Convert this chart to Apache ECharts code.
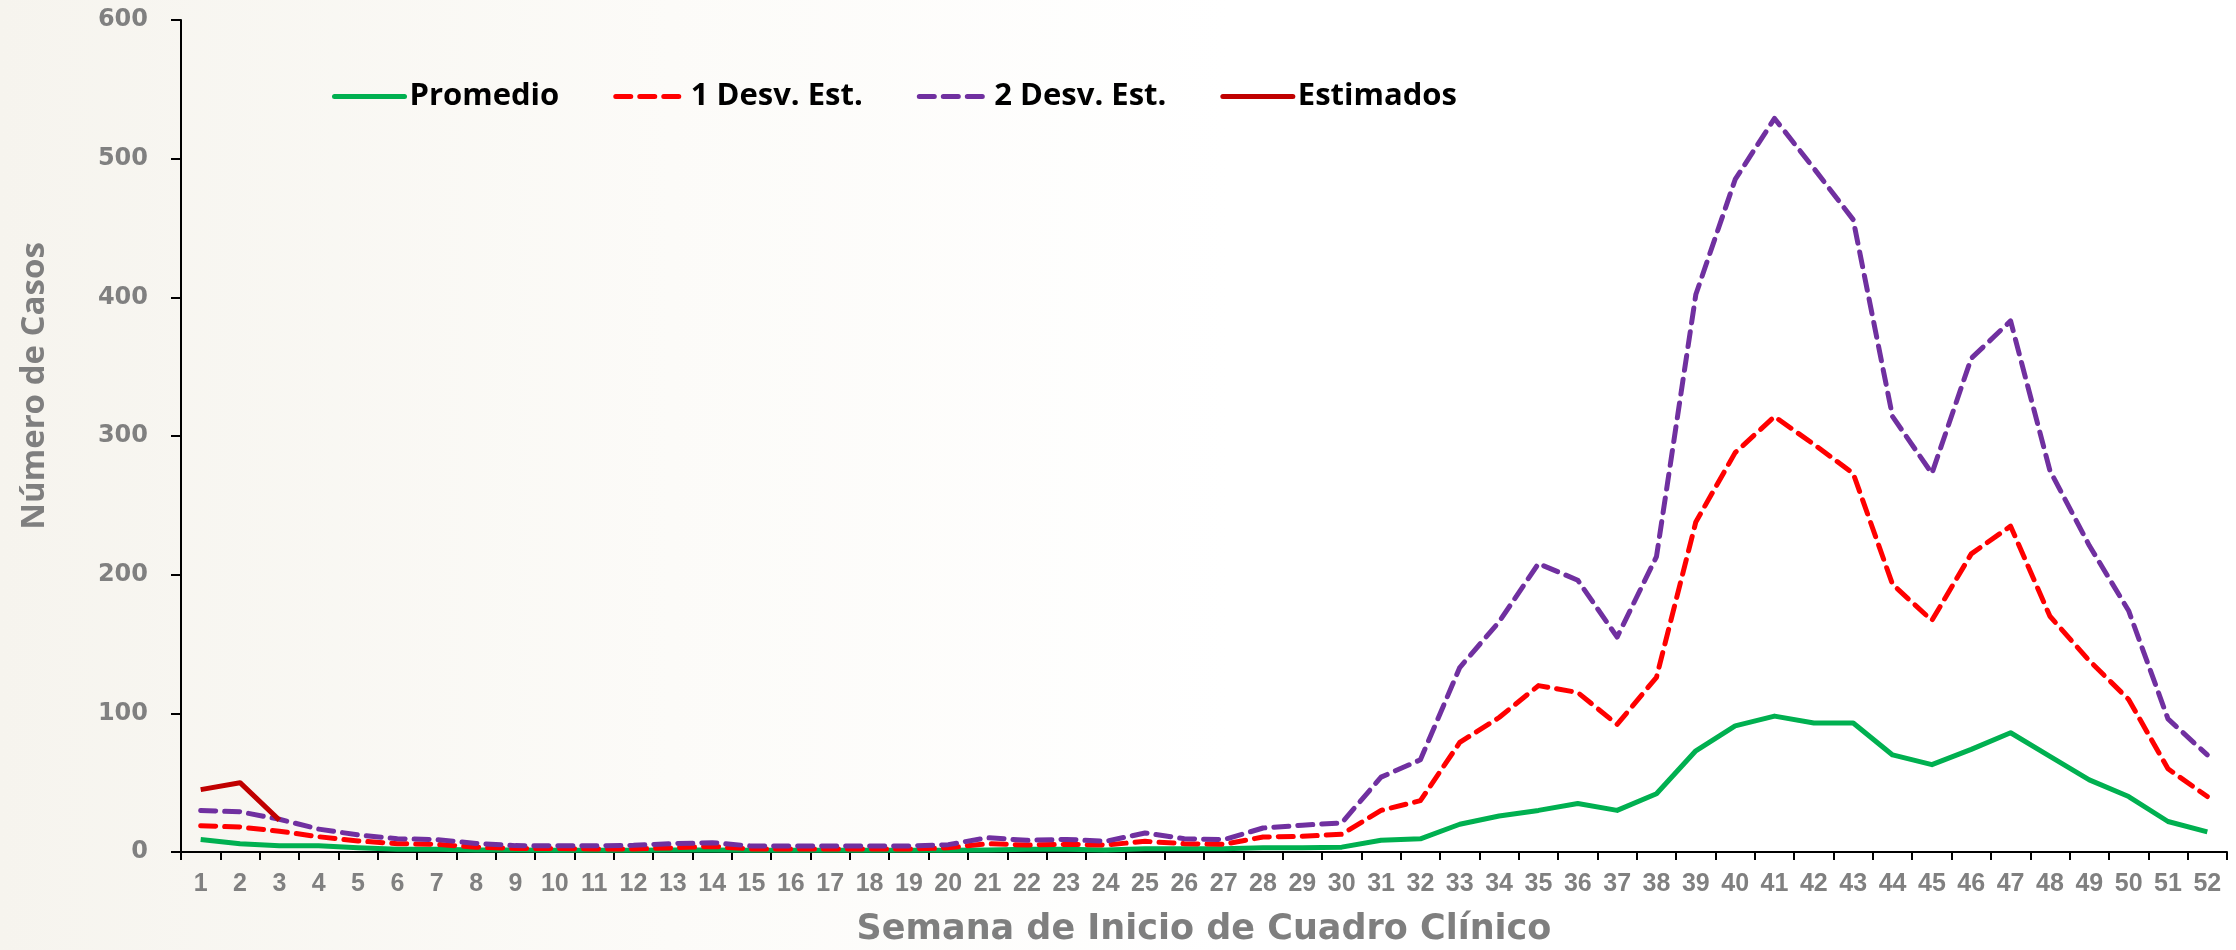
<!DOCTYPE html>
<html>
<head>
<meta charset="utf-8">
<title>Número de Casos por Semana</title>
<style>
    html, body { margin: 0; padding: 0; background: #fff; }
    #main { width: 2236px; height: 950px; }
</style>
</head>
<body>
<div id="main"></div>
<script src="https://cdn.jsdelivr.net/npm/echarts@6/dist/echarts.min.js"></script>
<script>
    // semanas (eje x)
    var semanas = ['1','2','3','4','5','6','7','8','9','10','11','12','13','14','15','16','17','18','19','20',
        '21','22','23','24','25','26','27','28','29','30','31','32','33','34','35','36','37','38','39','40',
        '41','42','43','44','45','46','47','48','49','50','51','52'];

    var promedio = [9, 6, 4.5, 4.5, 3, 2, 2, 1.5, 1.5, 1.2, 1.2, 1.2, 1.5, 1.5, 1.2, 1.2, 1.2, 1.2, 1.2, 1.2,
        1.5, 2, 2, 1.5, 2.4, 2.4, 2.4, 3, 3, 3.5, 8.5, 9.5, 20, 26, 30, 35, 30, 42, 73, 91,
        98, 93, 93, 70, 63, 74, 86, 69, 52, 40, 22, 14.5];

    var desv1 = [19, 18, 15, 11, 8, 6, 5.5, 3.5, 2.6, 2.5, 2.2, 2.2, 3, 4, 2.2, 2.2, 2.2, 2.2, 2.2, 3,
        6, 5, 5.5, 5, 7.7, 6, 5.5, 10.8, 11.3, 12.8, 30, 37, 79, 97, 120, 115, 92, 126, 238, 288,
        314, 294, 273, 193, 167, 215, 235, 170, 138, 110, 60, 40];

    var desv2 = [30, 29, 23.6, 16.5, 12.3, 9.5, 9, 6.2, 4.6, 4.5, 4.5, 4.8, 6, 6.7, 4.3, 4.3, 4.3, 4.3, 4.3, 5.3,
        10.3, 8.4, 9.1, 7.7, 13.7, 9.6, 8.9, 17.3, 19.3, 21, 54, 66.5, 133, 166, 208, 196, 155, 213, 402, 485,
        529, 493, 456, 314, 273, 356, 383, 275, 221, 174, 96, 70];

    var estimados = [45, 50, 23];

    var yTicks = [0, 100, 200, 300, 400, 500, 600];

    var myChart = echarts.init(document.getElementById('main'));

    var option = {
        backgroundColor: new echarts.graphic.LinearGradient(0, 0, 1, 0, [
            {offset: 0, color: '#f6f4ee'},
            {offset: 0.3, color: '#fcfbf8'},
            {offset: 0.55, color: '#ffffff'},
            {offset: 1, color: '#ffffff'}
        ]),
        animation: false,
        grid: {
            left: 181,
            right: 9,
            top: 20,
            bottom: 98,
            containLabel: false,
            outerBoundsMode: 'none'
        },
        legend: {
            left: 327,
            top: 76,
            itemWidth: 70,
            itemHeight: 14,
            itemGap: 54,
            // ocultar el circulo del icono, dejar solo la linea
            itemStyle: { opacity: 0 },
            lineStyle: { width: 5, cap: 'round' },
            textStyle: {
                fontFamily: 'Open Sans',
                fontWeight: 'bold',
                fontSize: 31,
                color: '#000'
            },
            data: ['Promedio', '1 Desv. Est.', '2 Desv. Est.', 'Estimados']
        },
        xAxis: {
            type: 'category',
            boundaryGap: true,
            data: semanas,
            name: 'Semana de Inicio de Cuadro Clínico',
            nameLocation: 'middle',
            nameGap: 60,
            nameTextStyle: {
                fontFamily: 'DejaVu Sans',
                fontWeight: 'bold',
                fontSize: 35,
                color: '#7f7f7f'
            },
            axisLine: { lineStyle: { color: '#000', width: 2 } },
            axisTick: { show: true, length: 8, lineStyle: { color: '#000', width: 2 } },
            axisLabel: {
                interval: 0,
                margin: 20,
                fontFamily: 'Liberation Sans',
                fontWeight: 'bold',
                fontSize: 25,
                color: '#808080'
            },
            splitLine: { show: false }
        },
        yAxis: {
            type: 'value',
            min: yTicks[0],
            max: yTicks[yTicks.length - 1],
            interval: 100,
            name: 'Número de Casos',
            nameLocation: 'middle',
            nameGap: 130,
            nameTextStyle: {
                fontFamily: 'Open Sans',
                fontWeight: 'bold',
                fontSize: 33,
                color: '#7f7f7f',
                padding: [0, 0, 0, 100]
            },
            axisLine: { show: true, lineStyle: { color: '#000', width: 2 } },
            axisTick: { show: true, length: 10, lineStyle: { color: '#000', width: 2 } },
            axisLabel: {
                margin: 33,
                fontFamily: 'DejaVu Sans',
                fontWeight: 'bold',
                fontSize: 24,
                color: '#808080'
            },
            splitLine: { show: false }
        },
        series: [
            {
                name: 'Promedio',
                type: 'line',
                symbol: 'none',
                data: promedio,
                color: '#00b050',
                lineStyle: { width: 5, color: '#00b050', join: 'round' }
            },
            {
                name: '1 Desv. Est.',
                type: 'line',
                symbol: 'none',
                data: desv1,
                color: '#ff0000',
                lineStyle: { width: 5, color: '#ff0000', type: [15, 9], cap: 'round', join: 'round' }
            },
            {
                name: '2 Desv. Est.',
                type: 'line',
                symbol: 'none',
                data: desv2,
                color: '#7030a0',
                lineStyle: { width: 5, color: '#7030a0', type: [15, 9], cap: 'round', join: 'round' }
            },
            {
                name: 'Estimados',
                type: 'line',
                symbol: 'none',
                data: estimados,
                color: '#c00000',
                lineStyle: { width: 5, color: '#c00000', join: 'round' }
            }
        ]
    };

    myChart.setOption(option);
</script>
</body>
</html>
